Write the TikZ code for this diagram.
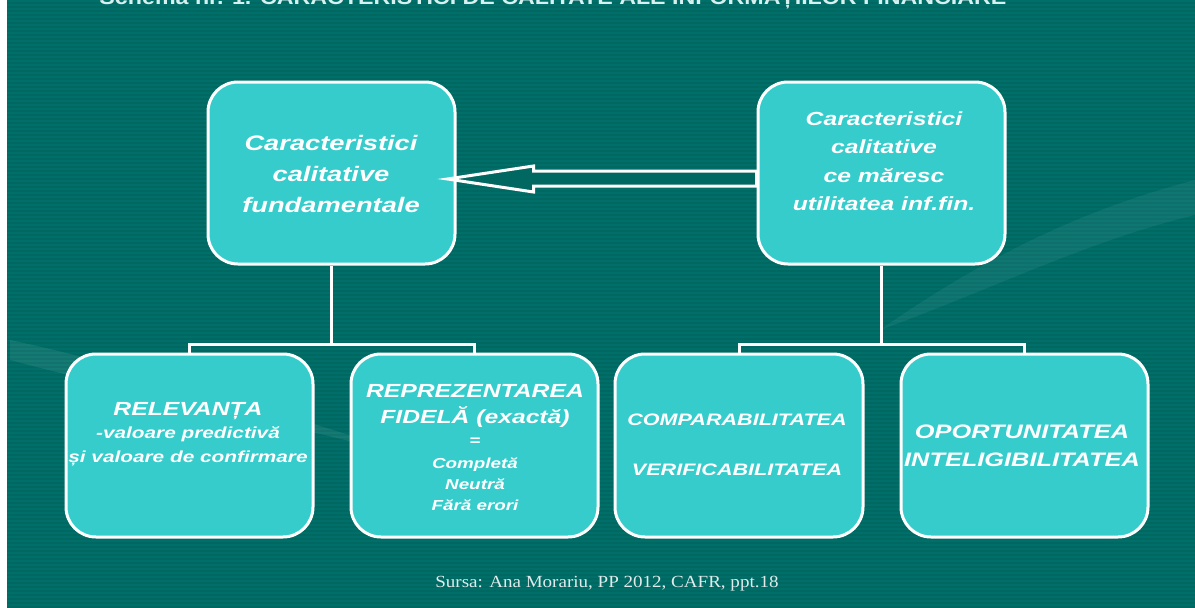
\documentclass[tikz,border=0pt]{standalone}
\usepackage{fontspec}
\setmainfont{Liberation Sans}
\newfontfamily\widefont[FakeStretch=1.3]{Liberation Sans}
\newfontfamily\serifft[FakeStretch=1.12]{Liberation Serif}
\usetikzlibrary{calc}
\definecolor{bgteal}{RGB}{0,103,97}
\definecolor{stripe}{RGB}{0,111,105}
\definecolor{boxcyan}{RGB}{54,204,204}
\definecolor{titlecol}{RGB}{215,240,240}
\definecolor{footcol}{RGB}{225,235,235}
\tikzset{
  box/.style={draw=white, line width=3pt, fill=boxcyan, rounded corners=30pt,
    minimum width=247pt, minimum height=182pt, inner sep=0pt},
  lbl/.style={text=white, align=center, inner sep=0pt},
  conn/.style={draw=white, line width=3pt},
  hollowarrow/.style={draw=white, line width=3pt, fill=bgteal, line join=miter}
}
\begin{document}
\begin{tikzpicture}[x=1pt,y=-1pt]
\useasboundingbox (0,0) rectangle (1195,608);
\clip (0,0) rectangle (1195,608);
% background
\fill[white] (0,0) rectangle (1195,608);
\fill[bgteal] (7,0) rectangle (1195,608);
\foreach \yy in {0,4,...,604} \fill[stripe] (7,\yy) rectangle (1195,\yy+2);
% faint swooshes
\fill[white, opacity=0.08] (10,340) .. controls (150,370) and (300,420) .. (460,470)
  .. controls (320,430) and (160,400) .. (10,360) -- cycle;
\fill[white, opacity=0.06] (880,330) .. controls (980,260) and (1080,210) .. (1195,180)
  -- (1195,215) .. controls (1090,240) and (990,290) .. (880,330) -- cycle;
% title (partly cut off, as in the reference)
\node[anchor=base, inner sep=0pt, text=titlecol, font=\bfseries] (title) at (553,4)
  {\resizebox{907pt}{14.5pt}{Schema nr. 1. CARACTERISTICI DE CALITATE ALE INFORMAȚIILOR FINANCIARE}};
% boxes
\node[box] (A) at (331.5,173) {};
\node[box] (B) at (881.5,173) {};
\node[box, minimum height=183pt] (r1) at (189.5,445.5) {};
\node[box, minimum height=183pt] (r2) at (474.5,445.5) {};
\node[box, minimum height=183pt, minimum width=248pt] (r3) at (739,445.5) {};
\node[box, minimum height=183pt] (r4) at (1024.5,445.5) {};
% connectors
\draw[conn] (A.south) -- ++(0,79) coordinate (jA) -| (r1.north);
\draw[conn] (jA) -| (r2.north);
\draw[conn] (B.south) -- ++(0,79) coordinate (jB) -| (r3.north);
\draw[conn] (jB) -| (r4.north);
% hollow arrow from B to A
\draw[hollowarrow] ($(A.east)+(-9,6)$) coordinate (tip)
  -- ($(tip)+(86,-13)$) -- ($(tip)+(86,-8)$) -- ($(B.west)+(0,-2)$)
  -- ($(B.west)+(0,13)$) -- ($(tip)+(86,7)$) -- ($(tip)+(86,13)$) -- cycle;
% texts
\node[lbl, font=\widefont\bfseries\itshape\fontsize{21}{31}\selectfont] (tA) at (331,174)
  {Caracteristici\\calitative\\fundamentale};
\node[lbl, font=\widefont\bfseries\itshape\fontsize{19}{28.5}\selectfont] (tB) at (884,161)
  {Caracteristici\\calitative\\ce măresc\\utilitatea inf.fin.};
\node[lbl, font=\widefont\bfseries\itshape\fontsize{16}{23.5}\selectfont] (t1) at (188,434)
  {{\fontsize{19}{23.5}\selectfont RELEVANȚA}\\-valoare predictivă\\și valoare de confirmare};
\node[lbl, font=\widefont\bfseries\itshape\fontsize{14.5}{21}\selectfont] (t2) at (475,448)
  {{\fontsize{19}{21}\selectfont REPREZENTAREA}\\[5pt]{\fontsize{19}{21}\selectfont FIDELĂ (exactă)}\\[1pt]=\\[2pt]Completă\\Neutră\\Fără erori};
\node[lbl, font=\widefont\bfseries\itshape\fontsize{16.6}{25}\selectfont] (t3) at (737,445)
  {COMPARABILITATEA\\[25pt]VERIFICABILITATEA};
\node[lbl, font=\widefont\bfseries\itshape\fontsize{19.5}{28}\selectfont] (t4) at (1022,446)
  {OPORTUNITATEA\\INTELIGIBILITATEA};
% footer
\node[inner sep=0pt, text=footcol, font=\serifft\fontsize{17}{17}\selectfont] (foot) at (607,584)
  {Sursa: Ana Morariu, PP 2012, CAFR, ppt.18};
\end{tikzpicture}
\end{document}
